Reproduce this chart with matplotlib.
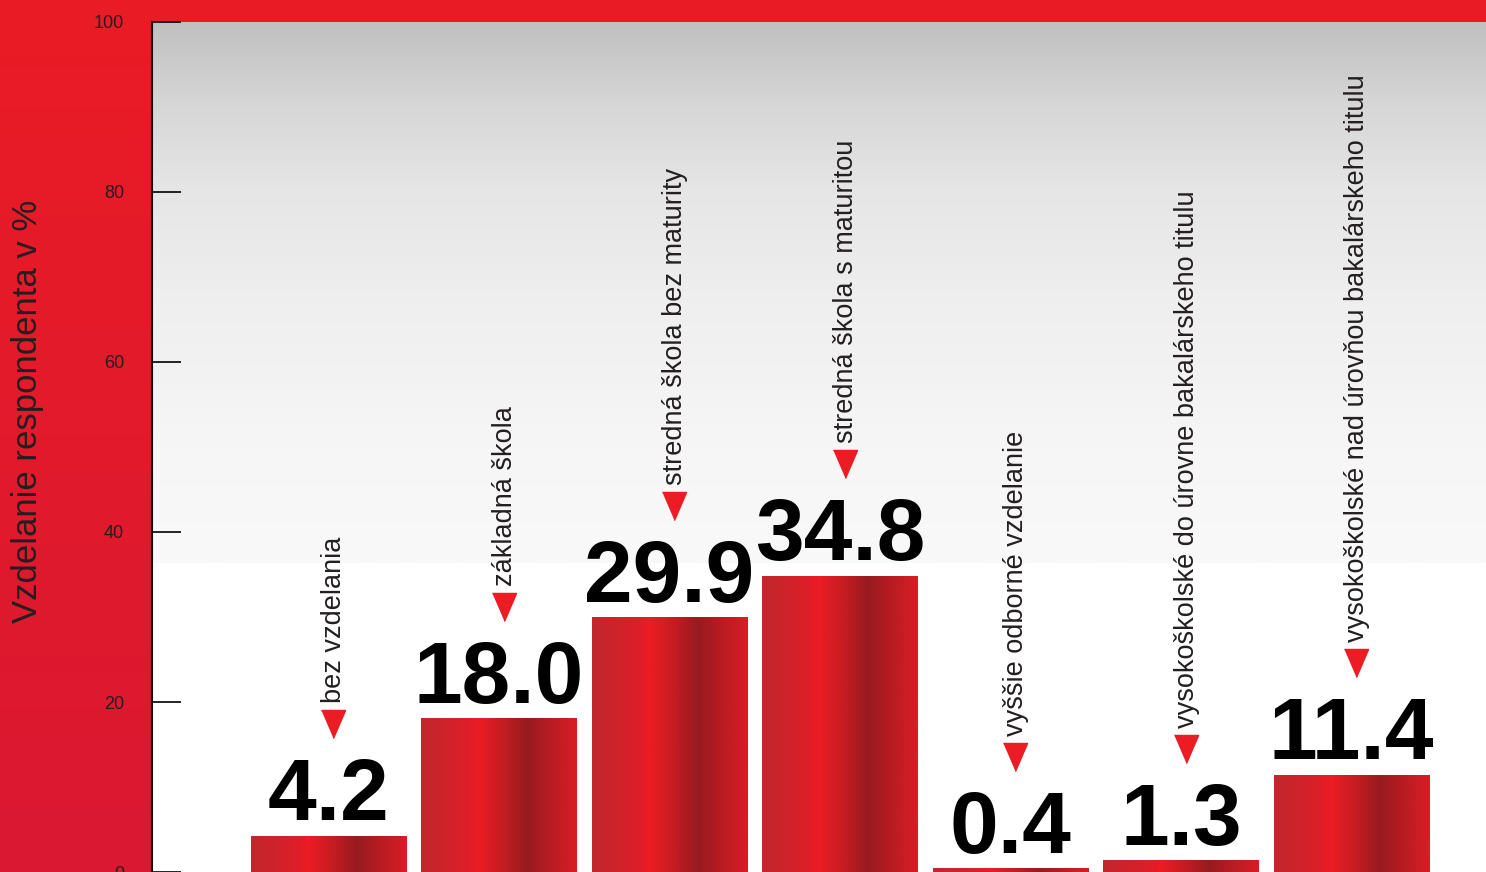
import numpy as np
import matplotlib
matplotlib.use("Agg")
import matplotlib.pyplot as plt
from matplotlib import font_manager
from matplotlib.transforms import offset_copy

categories = [
    "bez vzdelania",
    "základná škola",
    "stredná škola bez maturity",
    "stredná škola s maturitou",
    "vyššie odborné vzdelanie",
    "vysokoškolské do úrovne bakalárskeho titulu",
    "vysokoškolské nad úrovňou bakalárskeho titulu",
]
values = [4.2, 18.0, 29.9, 34.8, 0.4, 1.3, 11.4]
yticks = [0, 20, 40, 60, 80, 100]
ylabel = "Vzdelanie respondenta v %"

names = {f.name for f in font_manager.fontManager.ttflist}
if "Liberation Sans Narrow" in names:
    big_family = ["Liberation Sans Narrow", "DejaVu Sans"]
    big_size = 69
else:
    big_family = ["Liberation Sans", "DejaVu Sans"]
    big_size = 63
txt_family = ["Liberation Sans", "DejaVu Sans"]

W, H = 1486, 872
fig = plt.figure(figsize=(W / 100, H / 100), dpi=100)

# background (red panel + top band)
bg = fig.add_axes([0, 0, 1, 1], zorder=-10)
t = np.linspace(0, 1, 256)[:, None]
top = np.array([234, 28, 37]) / 255
bot = np.array([218, 24, 50]) / 255
grad = top[None, None, :] * (1 - t[..., None]) + bot[None, None, :] * t[..., None]
bg.imshow(grad, aspect="auto", extent=(0, 1, 0, 1))
bg.set_xlim(0, 1); bg.set_ylim(0, 1)
bg.axis("off")

ax = fig.add_axes([152 / W, 0, 1 - 152 / W, 850 / H])
x = np.arange(len(values))
ax.set_xlim(-1.035, 6.789)
ax.set_ylim(0, 100)
ax.set_facecolor("white")

# plot area gradient (gray at top to white)
stops_v = np.array([36.4, 50, 67, 80, 90, 100])
stops_c = np.array([249, 246, 239, 230, 215, 192])
yy = np.linspace(36.4, 100, 300)
cc = np.interp(yy, stops_v, stops_c) / 255
gimg = np.repeat(cc[::-1, None, None], 3, axis=2)
ax.imshow(gimg, aspect="auto", extent=(-1.035, 6.789, 36.4, 100), zorder=0)

# bars
bars = ax.bar(x, values, width=0.91, color="none", edgecolor="none", zorder=2)
pos = np.array([0, 0.3, 0.37, 0.55, 0.68, 0.82, 1.0])
cols = np.array([[193, 39, 45], [222, 30, 40], [236, 28, 36], [190, 28, 34],
                 [150, 27, 31], [182, 28, 34], [218, 28, 37]]) / 255
xs = np.linspace(0, 1, 200)
bar_grad = np.stack([np.interp(xs, pos, cols[:, k]) for k in range(3)], axis=-1)[None, :, :]
for p in bars:
    x0, w, h = p.get_x(), p.get_width(), p.get_height()
    ax.imshow(bar_grad, aspect="auto", extent=(x0, x0 + w, 0, h), zorder=2)

ax.set_xlim(-1.035, 6.789)
ax.set_ylim(0, 100)

# value labels, triangles, category labels
tri = [(-0.86, 1), (0.86, 1), (0, -1)]
for xi, v, cat in zip(x, values, categories):
    ax.annotate(f"{v:.1f}", (xi, v), xytext=(0, 11.5), textcoords="offset points",
                ha="center", va="baseline", fontsize=big_size, fontweight="bold",
                family=big_family, color="black", zorder=4)
    tr = offset_copy(ax.transData, fig=fig, x=5, y=112, units="dots")
    ax.plot([xi], [v], marker=tri, markersize=20.2, color="#EC1C24",
            transform=tr, zorder=4, clip_on=False)
    ax.annotate(cat, (xi, v), xytext=(6 * 0.72, 133 * 0.72), textcoords="offset points",
                rotation=90, ha="center", va="bottom", fontsize=19.5,
                family=txt_family, color="#231F20", zorder=4)

ax.set_yticks(yticks)
ax.set_yticklabels([str(v) for v in yticks])
ax.tick_params(axis="y", direction="in", length=21, width=1.2, labelsize=13,
               pad=20, colors="black")
for lab in ax.get_yticklabels():
    lab.set_family(txt_family)
    lab.set_color("#231F20")
ax.set_xticks([])
for s in ["top", "right", "bottom"]:
    ax.spines[s].set_visible(False)
ax.spines["left"].set_linewidth(1.5)
ax.spines["left"].set_color("black")

fig.text(28 / W, 1 - 411 / H, ylabel, rotation=90, ha="center", va="center",
         fontsize=25, family=txt_family, color="#231F20")

fig.savefig("out.png", dpi=100)
